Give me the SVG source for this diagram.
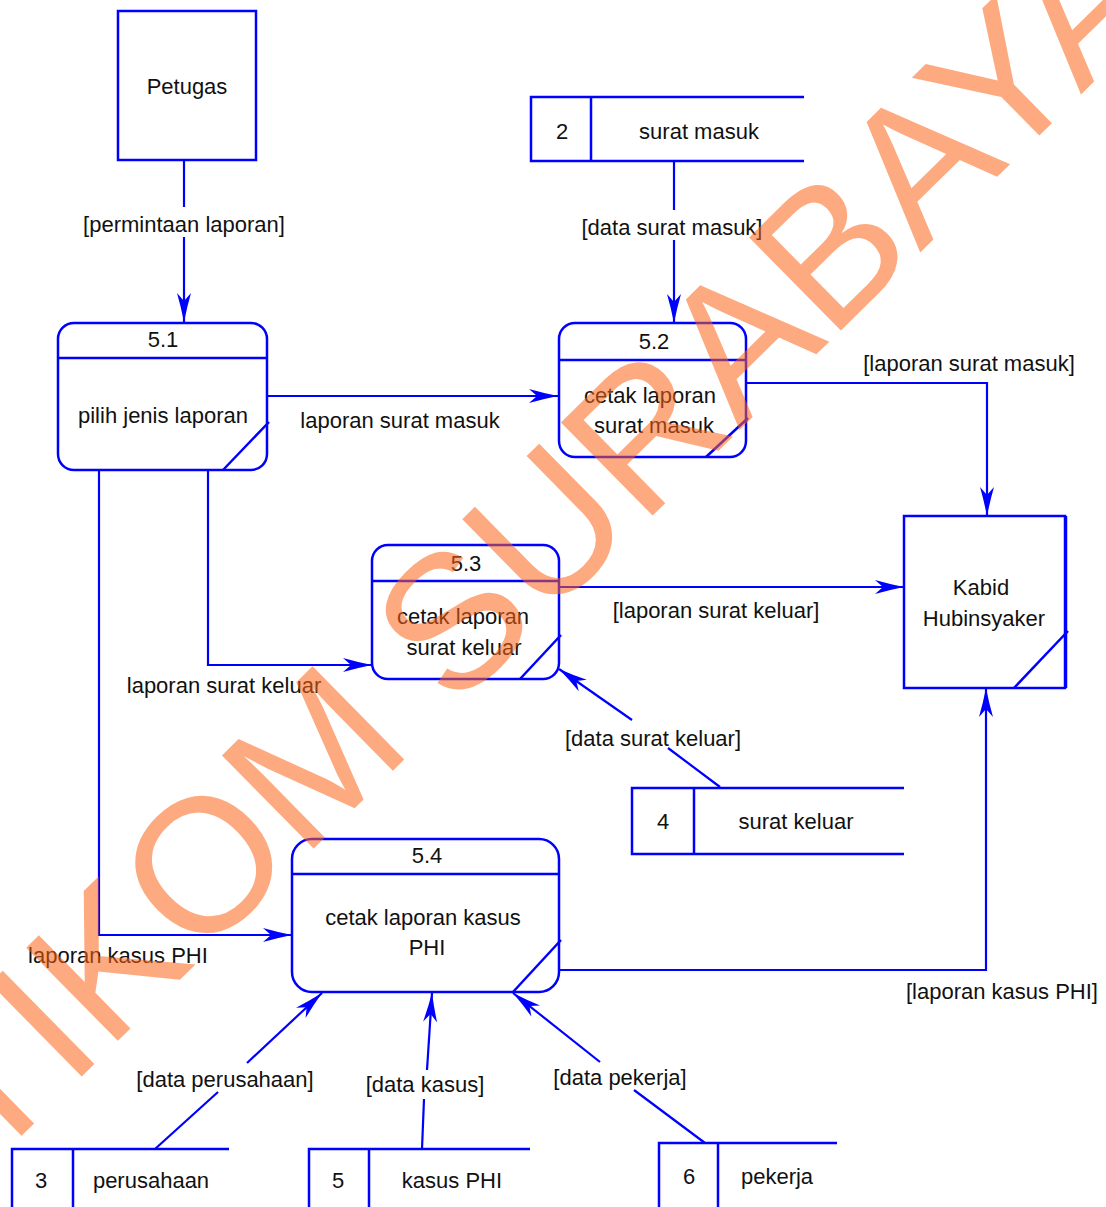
<svg xmlns="http://www.w3.org/2000/svg" width="1106" height="1207" viewBox="0 0 1106 1207">
<style>
text{font-family:"Liberation Sans",Arial,sans-serif;font-size:22px;fill:#111;}
.c{text-anchor:middle;}
.box{fill:none;stroke:#0000FF;stroke-width:2.5;}
.ln{fill:none;stroke:#0000FF;stroke-width:2.2;}
.wm{font-family:"Liberation Sans",Arial,sans-serif;font-size:190px;fill:#FB6418;fill-opacity:0.55;}
</style>
<defs>
<marker id="arr" markerUnits="userSpaceOnUse" markerWidth="30" markerHeight="16" refX="30" refY="8" orient="auto" viewBox="0 0 30 16">
<path d="M30,8 Q15,5 1,1 L9,8 L1,15 Q15,11 30,8 Z" fill="#0000FF"/>
</marker>
</defs>
<rect width="1106" height="1207" fill="#fff"/>

<g id="connectors">
<line class="ln" x1="184" y1="160" x2="184" y2="207"/>
<line class="ln" x1="184" y1="237" x2="184" y2="322" marker-end="url(#arr)"/>
<text class="c" x="184" y="232">[permintaan laporan]</text>

<line class="ln" x1="267" y1="396" x2="558" y2="396" marker-end="url(#arr)"/>
<text class="c" x="400" y="428">laporan surat masuk</text>

<line class="ln" x1="674" y1="161" x2="674" y2="210"/>
<line class="ln" x1="674" y1="240" x2="674" y2="323" marker-end="url(#arr)"/>
<text class="c" x="672" y="235">[data surat masuk]</text>

<polyline class="ln" points="746,383 987,383 987,516" marker-end="url(#arr)"/>
<text class="c" x="969" y="371">[laporan surat masuk]</text>

<polyline class="ln" points="208,470 208,665 372,665" marker-end="url(#arr)"/>
<text class="c" x="224" y="693">laporan surat keluar</text>

<line class="ln" x1="559" y1="587" x2="904" y2="587" marker-end="url(#arr)"/>
<text class="c" x="716" y="618">[laporan surat keluar]</text>

<line class="ln" x1="720" y1="787" x2="668" y2="748"/>
<line class="ln" x1="632" y1="720" x2="559" y2="669" marker-end="url(#arr)"/>
<text class="c" x="653" y="746">[data surat keluar]</text>

<polyline class="ln" points="99,470 99,935 292,935" marker-end="url(#arr)"/>
<text class="c" x="118" y="963">laporan kasus PHI</text>

<polyline class="ln" points="559,970 986,970 986,688" marker-end="url(#arr)"/>
<text class="c" x="1002" y="999">[laporan kasus PHI]</text>

<line class="ln" x1="155" y1="1149" x2="218" y2="1092"/>
<line class="ln" x1="247" y1="1063" x2="322" y2="993" marker-end="url(#arr)"/>
<text class="c" x="225" y="1087">[data perusahaan]</text>

<line class="ln" x1="422" y1="1149" x2="424" y2="1099"/>
<line class="ln" x1="427" y1="1070" x2="432" y2="993" marker-end="url(#arr)"/>
<text class="c" x="425" y="1092">[data kasus]</text>

<line class="ln" x1="705" y1="1143" x2="634" y2="1090"/>
<line class="ln" x1="600" y1="1062" x2="513" y2="993" marker-end="url(#arr)"/>
<text class="c" x="620" y="1085">[data pekerja]</text>
</g>

<g id="petugas">
<rect class="box" x="118" y="11" width="138" height="149"/>
<text class="c" x="187" y="94">Petugas</text>
</g>

<g id="p51">
<rect class="box" x="58" y="323" width="209" height="147" rx="16"/>
<line class="box" x1="58" y1="358" x2="267" y2="358"/>
<line class="box" x1="269" y1="422" x2="223" y2="470"/>
<text class="c" x="163" y="347">5.1</text>
<text class="c" x="163" y="423">pilih jenis laporan</text>
</g>

<g id="store2">
<polyline class="box" points="804,97 531,97 531,161 804,161"/>
<line class="box" x1="591" y1="97" x2="591" y2="161"/>
<text class="c" x="562" y="139">2</text>
<text class="c" x="699" y="139">surat masuk</text>
</g>

<g id="p52">
<rect class="box" x="559" y="323" width="187" height="134" rx="16"/>
<line class="box" x1="559" y1="360" x2="746" y2="360"/>
<line class="box" x1="748" y1="418" x2="706" y2="457"/>
<text class="c" x="654" y="349">5.2</text>
<text class="c" x="650" y="403">cetak laporan</text>
<text class="c" x="654" y="433">surat masuk</text>
</g>

<g id="kabid">
<rect class="box" x="904" y="516" width="161" height="172"/>
<line class="box" x1="1066" y1="516" x2="1066" y2="688"/>
<line class="box" x1="1068" y1="631" x2="1014" y2="688"/>
<text class="c" x="981" y="595">Kabid</text>
<text class="c" x="984" y="626">Hubinsyaker</text>
</g>

<g id="p53">
<rect class="box" x="372" y="545" width="187" height="134" rx="16"/>
<line class="box" x1="372" y1="581" x2="559" y2="581"/>
<line class="box" x1="561" y1="635" x2="520" y2="679"/>
<text class="c" x="466" y="571">5.3</text>
<text class="c" x="463" y="624">cetak laporan</text>
<text class="c" x="464" y="655">surat keluar</text>
</g>

<g id="store4">
<polyline class="box" points="904,788 632,788 632,854 904,854"/>
<line class="box" x1="694" y1="788" x2="694" y2="854"/>
<text class="c" x="663" y="829">4</text>
<text class="c" x="796" y="829">surat keluar</text>
</g>

<g id="p54">
<rect class="box" x="292" y="839" width="267" height="153" rx="20"/>
<line class="box" x1="292" y1="874" x2="559" y2="874"/>
<line class="box" x1="561" y1="940" x2="513" y2="992"/>
<text class="c" x="427" y="863">5.4</text>
<text class="c" x="423" y="925">cetak laporan kasus</text>
<text class="c" x="427" y="955">PHI</text>
</g>

<g id="store3">
<polyline class="box" points="229,1149 12,1149 12,1210"/>
<line class="box" x1="73" y1="1149" x2="73" y2="1210"/>
<text class="c" x="41" y="1188">3</text>
<text class="c" x="151" y="1188">perusahaan</text>
</g>

<g id="store5">
<polyline class="box" points="530,1149 309,1149 309,1210"/>
<line class="box" x1="369" y1="1149" x2="369" y2="1210"/>
<text class="c" x="338" y="1188">5</text>
<text class="c" x="452" y="1188">kasus PHI</text>
</g>

<g id="store6">
<polyline class="box" points="837,1143 659,1143 659,1210"/>
<line class="box" x1="718" y1="1143" x2="718" y2="1210"/>
<text class="c" x="689" y="1184">6</text>
<text class="c" x="777" y="1184">pekerja</text>
</g>

<g id="watermark">
<text class="wm" transform="translate(-104,1259) rotate(-44.5)">STIKOM SURABAYA</text>
</g>
</svg>
